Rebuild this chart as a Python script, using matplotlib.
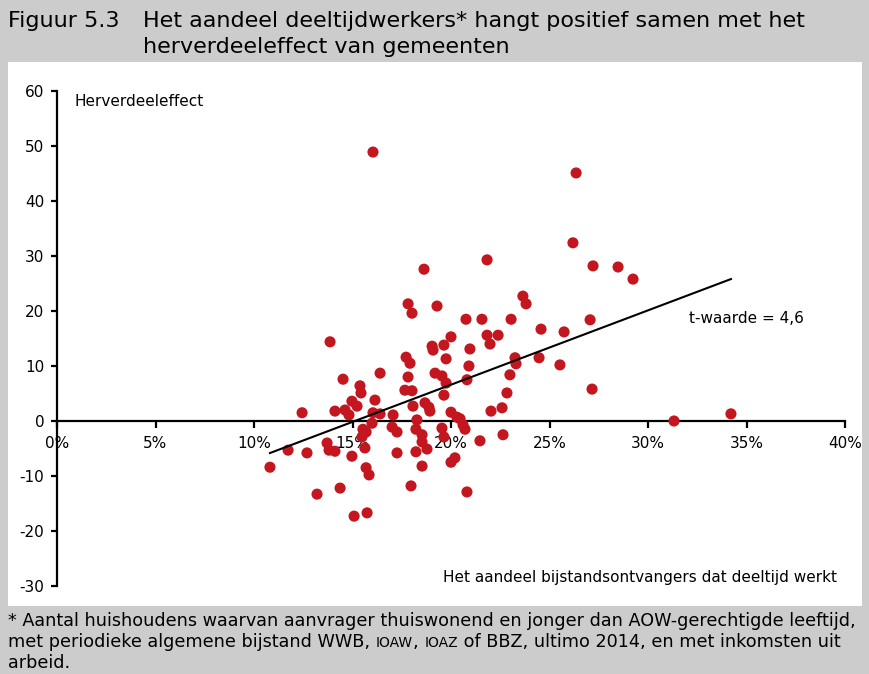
import numpy as np
import matplotlib.pyplot as plt
from matplotlib.patches import Rectangle

plt.rcParams['font.family'] = ['DejaVu Sans']
plt.rcParams['axes.unicode_minus'] = False

# aandeel bijstandsontvangers dat deeltijd werkt (%)
share = np.array([
    16.04, 26.35, 26.19, 21.83, 18.63, 27.21, 28.48, 29.24, 23.65, 23.81,
    17.82, 18.02, 19.29, 20.76, 21.57, 23.05, 27.06, 24.57, 25.74, 13.86,
    20.00, 21.83, 21.98, 22.39, 19.04, 19.09, 19.64, 20.96, 17.72, 17.92,
    19.75, 23.25, 23.30, 24.47, 25.53, 20.91, 16.40, 17.82, 19.19, 19.54,
    19.75, 22.99, 20.81, 14.52, 15.38, 15.43, 17.66, 18.02, 19.64, 22.84,
    27.16, 14.97, 15.23, 16.14, 18.07, 18.68, 18.88, 18.93, 20.00, 20.30,
    20.46, 22.03, 22.59, 12.44, 14.11, 14.62, 14.82, 16.04, 16.40, 17.06,
    18.27, 15.99, 15.53, 15.48, 17.01, 17.26, 18.22, 19.54, 20.61, 20.71,
    18.53, 18.53, 19.64, 21.47, 22.64, 11.73, 10.81, 12.69, 13.71, 13.81,
    14.11, 14.97, 15.69, 15.63, 15.69, 15.84, 14.37, 13.20, 15.08, 15.74,
    17.26, 18.22, 18.78, 20.00, 20.20, 18.53, 17.97, 20.81, 31.32, 34.21,
])
# herverdeeleffect
effect = np.array([
    48.9, 45.1, 32.4, 29.3, 27.6, 28.2, 28.0, 25.8, 22.7, 21.3,
    21.3, 19.6, 20.9, 18.5, 18.5, 18.5, 18.4, 16.7, 16.2, 14.4,
    15.3, 15.6, 14.0, 15.6, 13.6, 12.9, 13.8, 13.1, 11.6, 10.5,
    11.3, 11.5, 10.4, 11.5, 10.2, 10.0, 8.7, 8.0, 8.7, 8.2,
    6.9, 8.4, 7.5, 7.6, 6.4, 5.1, 5.6, 5.5, 4.7, 5.1,
    5.8, 3.6, 2.7, 3.8, 2.7, 3.3, 2.5, 1.8, 1.6, 0.7,
    0.4, 1.8, 2.4, 1.5, 1.8, 2.0, 1.1, 1.5, 1.3, 1.1,
    0.2, -0.4, -1.5, -2.9, -1.1, -2.0, -1.5, -1.3, -0.7, -1.5,
    -2.5, -3.8, -2.9, -3.6, -2.5, -5.3, -8.4, -5.8, -4.0, -5.3,
    -5.5, -6.4, -2.0, -4.9, -8.5, -9.8, -12.2, -13.3, -17.3, -16.7,
    -5.8, -5.6, -5.1, -7.5, -6.7, -8.2, -11.8, -12.9, 0.0, 1.3,
])

x_ticks = [0, 5, 10, 15, 20, 25, 30, 35, 40]
y_ticks = [-30, -20, -10, 0, 10, 20, 30, 40, 50, 60]

grey = '#cccccc'
red = '#c3161f'

fig = plt.figure(figsize=(8.7, 6.74), dpi=100)
fig.patch.set_facecolor(grey)
# white panel behind the chart
fig.patches.append(Rectangle((8 / 870, 1 - 606 / 674), 854 / 870, 544 / 674,
                             transform=fig.transFigure, facecolor='white',
                             edgecolor='none', zorder=-5))

ax = fig.add_axes([57 / 870, 1 - 586 / 674, 788 / 870, 495 / 674])
ax.set_facecolor('none')

ax.scatter(share, effect, s=64, color=red, edgecolors='none', zorder=3)

# trendlijn (kleinste kwadraten)
b, a = np.polyfit(share, effect, 1)
xl = np.array([share.min(), share.max()])
ax.plot(xl, a + b * xl, color='black', lw=1.5, zorder=4)

ax.set_xlim(0, 40)
ax.set_ylim(-30, 60)
ax.spines['right'].set_visible(False)
ax.spines['top'].set_visible(False)
ax.spines['bottom'].set_position(('data', 0))
ax.spines['left'].set_linewidth(1.6)
ax.spines['bottom'].set_linewidth(1.6)

ax.set_xticks(x_ticks)
ax.set_xticklabels([f'{t}%' for t in x_ticks])
ax.set_yticks(y_ticks)
ax.tick_params(axis='x', direction='out', length=5, width=1.6, pad=6, labelsize=11)
ax.tick_params(axis='y', direction='out', length=4, width=1.6, pad=5, labelsize=11)
for lab in ax.get_xticklabels():
    lab.set_zorder(5)

fig.text(75 / 870, 1 - 102 / 674, 'Herverdeeleffect', fontsize=11, va='center', ha='left')
ax.text(32.1, 18.7, 't-waarde = 4,6', fontsize=11, va='center', ha='left')
ax.text(39.6, -28.5, 'Het aandeel bijstandsontvangers dat deeltijd werkt',
        fontsize=11, va='center', ha='right')

fig.text(8 / 870, 1 - 21 / 674, 'Figuur 5.3', fontsize=16, va='center', ha='left')
fig.text(143 / 870, 1 - 21 / 674, 'Het aandeel deeltijdwerkers* hangt positief samen met het',
         fontsize=16, va='center', ha='left')
fig.text(143 / 870, 1 - 47 / 674, 'herverdeeleffect van gemeenten',
         fontsize=16, va='center', ha='left')

# voetnoot; IOAW en IOAZ in kleinkapitaal
fs = 12.7
fig.text(8 / 870, 1 - 626 / 674,
         '* Aantal huishoudens waarvan aanvrager thuiswonend en jonger dan AOW-gerechtigde leeftijd,',
         fontsize=fs, va='baseline', ha='left')
parts = [('met periodieke algemene bijstand WWB, ', fs), ('IOAW', 10), (', ', fs),
         ('IOAZ', 10), (' of BBZ, ultimo 2014, en met inkomsten uit', fs)]
renderer = fig.canvas.get_renderer()
x_px = 8
for txt, size in parts:
    t = fig.text(x_px / 870, 1 - 647 / 674, txt, fontsize=size, va='baseline', ha='left')
    x_px = t.get_window_extent(renderer).x1
fig.text(8 / 870, 1 - 668 / 674, 'arbeid.', fontsize=fs, va='baseline', ha='left')

fig.savefig('out.png', dpi=100, facecolor=fig.get_facecolor())
